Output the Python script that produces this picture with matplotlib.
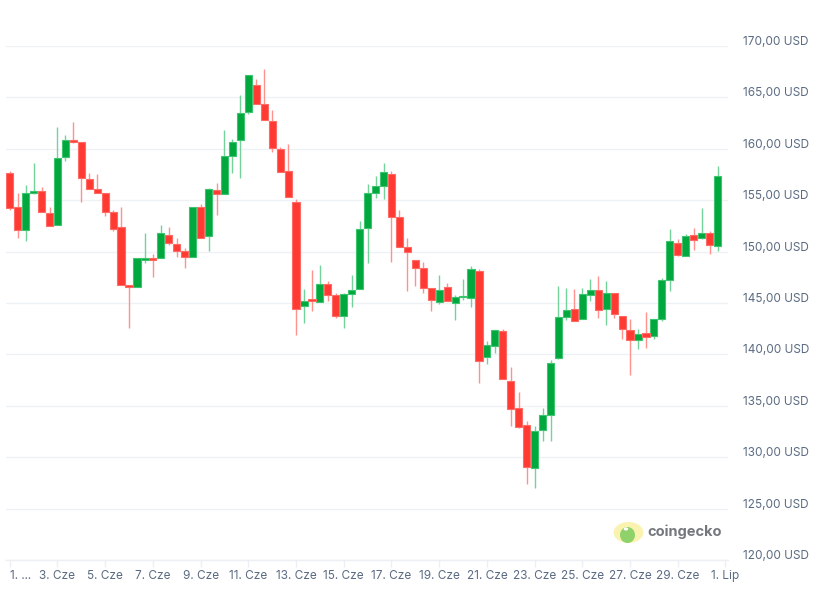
import matplotlib
matplotlib.use('Agg')
import matplotlib.pyplot as plt
import numpy as np
from matplotlib.transforms import ScaledTranslation
from matplotlib.patches import Circle, Ellipse

plt.rcParams['font.family'] = ['Inter', 'DejaVu Sans']

# 8h candles, 1 Jun - 30 Jun (price in USD)
opens = [157.63, 154.32, 152.08, 155.71, 155.88, 153.73, 152.56, 159.19, 160.88, 160.65,
         157.05, 156.07, 155.68, 153.83, 152.37, 146.72, 146.59, 149.22, 149.29, 149.35,
         151.59, 150.71, 150.03, 149.45, 154.32, 151.49, 155.97, 155.58, 159.29, 160.88,
         163.57, 166.20, 164.35, 162.70, 159.97, 157.82, 154.81, 144.67, 145.36, 145.06,
         146.82, 145.75, 143.70, 145.84, 146.33, 152.27, 155.68, 156.36, 157.53, 153.34,
         150.42, 149.16, 148.38, 146.43, 145.06, 146.53, 144.97, 145.55, 145.52, 148.15,
         139.77, 140.84, 142.30, 137.43, 134.80, 133.12, 128.93, 132.66, 134.12, 139.67,
         143.60, 144.45, 143.47, 145.75, 146.30, 144.46, 146.01, 143.77, 142.40, 141.43,
         142.11, 141.82, 143.47, 147.28, 150.87, 149.58, 151.65, 151.33, 151.85, 150.58]
highs = [157.82, 155.71, 156.49, 158.64, 156.30, 154.35, 162.14, 161.36, 162.63, 160.65,
         157.63, 157.57, 155.68, 154.03, 154.35, 146.72, 149.35, 151.82, 149.77, 152.60,
         152.40, 151.33, 150.36, 154.32, 154.64, 156.20, 156.69, 161.79, 160.97, 165.26,
         167.18, 166.82, 167.79, 163.80, 160.16, 160.49, 155.13, 146.36, 148.21, 148.70,
         147.14, 145.97, 145.94, 147.73, 152.95, 156.56, 157.34, 158.60, 157.82, 154.03,
         151.30, 149.16, 148.96, 146.43, 147.73, 146.92, 145.75, 147.31, 148.60, 148.28,
         141.27, 142.37, 142.43, 138.77, 136.30, 133.54, 133.08, 134.74, 139.41, 146.66,
         146.49, 146.36, 146.43, 147.31, 147.63, 147.12, 146.01, 143.77, 143.41, 142.43,
         144.12, 143.47, 147.43, 152.17, 151.26, 151.68, 152.33, 154.21, 151.98, 158.29]
lows = [154.09, 151.33, 151.07, 155.65, 153.83, 152.47, 152.56, 158.77, 160.52, 154.87,
        156.07, 155.68, 153.44, 152.01, 146.79, 142.53, 146.59, 148.93, 147.56, 149.35,
        150.68, 149.51, 148.44, 149.45, 151.30, 150.10, 153.60, 155.58, 157.60, 157.14,
        163.34, 164.35, 162.79, 159.68, 157.73, 155.29, 141.88, 143.05, 144.22, 145.06,
        145.16, 143.51, 142.53, 144.58, 146.33, 148.86, 155.26, 155.10, 149.03, 150.42,
        146.14, 146.69, 145.94, 144.19, 144.87, 145.16, 143.31, 145.32, 144.61, 137.21,
        139.03, 140.10, 137.63, 133.02, 132.82, 127.44, 127.05, 131.53, 131.53, 139.51,
        143.38, 143.28, 143.47, 145.19, 143.57, 142.87, 143.50, 141.46, 137.95, 140.49,
        140.62, 141.53, 143.25, 146.18, 149.58, 149.58, 150.13, 151.20, 149.81, 150.06]
closes = [154.22, 152.08, 155.68, 155.88, 153.83, 152.47, 159.09, 160.84, 160.65, 157.14,
          156.07, 155.68, 153.83, 152.18, 146.79, 146.59, 149.35, 149.29, 149.22, 151.79,
          150.81, 150.03, 149.45, 154.32, 151.30, 156.07, 155.58, 159.29, 160.65, 163.47,
          167.18, 164.35, 162.79, 160.07, 157.73, 155.29, 144.38, 145.16, 145.16, 146.82,
          145.75, 143.70, 145.84, 146.23, 152.18, 155.68, 156.36, 157.73, 153.34, 150.42,
          149.93, 148.38, 146.43, 145.26, 146.23, 145.16, 145.55, 145.65, 148.34, 139.38,
          140.91, 142.37, 137.63, 134.71, 132.95, 129.06, 132.56, 134.12, 139.19, 143.60,
          144.35, 143.28, 145.91, 146.23, 144.35, 146.01, 143.90, 142.50, 141.43, 142.01,
          141.72, 143.47, 147.27, 151.07, 149.71, 151.56, 151.17, 151.85, 150.65, 157.39]

tick_pos = [0, 6, 12, 18, 24, 30, 36, 42, 48, 54, 60, 66, 72, 78, 84, 90]
tick_labels = ['1. ...', '3. Cze', '5. Cze', '7. Cze', '9. Cze', '11. Cze', '13. Cze', '15. Cze',
               '17. Cze', '19. Cze', '21. Cze', '23. Cze', '25. Cze', '27. Cze', '29. Cze', '1. Lip']
price_ticks = [120, 125, 130, 135, 140, 145, 150, 155, 160, 165, 170]
price_labels = [f'{p},00 USD' for p in price_ticks]

o = np.array(opens)
h = np.array(highs)
l = np.array(lows)
c = np.array(closes)
x = np.arange(len(o))
up = c >= o

green, red = '#00a83e', '#ff3a33'
green_edge, red_edge = '#3cc46f', '#ff6b64'
green_wick, red_wick = '#74d39b', '#ff928d'

fig = plt.figure(figsize=(8.35, 5.91), dpi=100)
ax = fig.add_axes([6/835, 31/591, (727.7-6)/835, 514/591])

ax.vlines(x[up], l[up], h[up], color=green_wick, lw=1.0, zorder=2)
ax.vlines(x[~up], l[~up], h[~up], color=red_wick, lw=1.0, zorder=2)

body_bot = np.minimum(o, c)
body_h = np.maximum(np.abs(c - o), 0.12)
ax.bar(x[up], body_h[up], bottom=body_bot[up], width=0.9, color=green,
       edgecolor=green_edge, linewidth=0.8, zorder=3)
ax.bar(x[~up], body_h[~up], bottom=body_bot[~up], width=0.9, color=red,
       edgecolor=red_edge, linewidth=0.8, zorder=3)

ax.set_xlim(-0.47, 90.28)
ax.set_ylim(120, 170)

for s in ['top', 'left', 'right']:
    ax.spines[s].set_visible(False)
ax.spines['bottom'].set_color('#eceff3')
ax.spines['bottom'].set_linewidth(1.0)

ax.yaxis.tick_right()
ax.set_yticks(price_ticks)
ax.set_yticklabels(price_labels)
ax.grid(axis='y', color='#eff2f5', lw=1.0, zorder=0)
ax.tick_params(axis='y', length=0, pad=11, labelsize=8.5, labelcolor='#5b6b82')
off = ScaledTranslation(0, 5.5/100, fig.dpi_scale_trans)
for lab in ax.get_yticklabels():
    lab.set_transform(lab.get_transform() + off)

ax.set_xticks(tick_pos)
ax.set_xticklabels(tick_labels)
ax.tick_params(axis='x', length=5, width=1.0, color='#eceff3', pad=2,
               labelsize=8.5, labelcolor='#5b6b82')
ax.get_xticklabels()[0].set_horizontalalignment('left')

# coingecko watermark
fig.patches.append(Circle((628.5/835, 1-532.5/591), 10.5/591, transform=fig.transFigure,
                          facecolor='#faf3b0', edgecolor='none'))
fig.patches.append(Ellipse((627.5/835, 1-535/591), 15/835, 16/591, transform=fig.transFigure,
                           facecolor='#8fd16a', edgecolor='none'))
fig.patches.append(Circle((626/835, 1-529/591), 1.6/591, transform=fig.transFigure,
                          facecolor='white', edgecolor='none'))
fig.text(647/835, 1-531.5/591, 'coingecko', fontsize=10.5, fontweight='bold',
         color='#74777c', ha='left', va='center')

plt.savefig('out.png', dpi=100)
